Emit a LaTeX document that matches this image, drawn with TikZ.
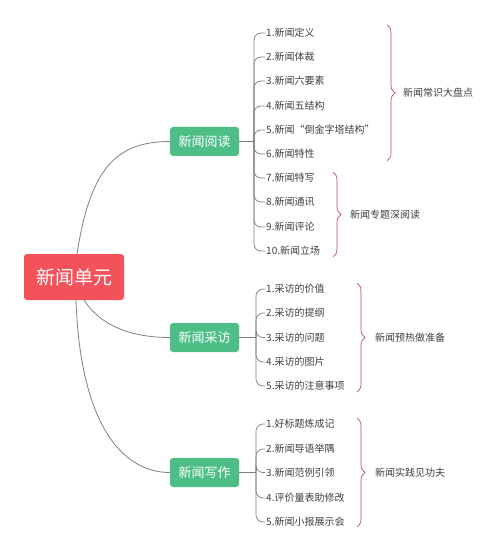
\documentclass[tikz,border=0pt]{standalone}
\usepackage{fontspec}
\setmainfont{Noto Sans CJK SC}
\usetikzlibrary{decorations.pathreplacing}
\definecolor{rootred}{RGB}{244,82,90}
\definecolor{topgreen}{RGB}{76,190,134}
\definecolor{linegray}{RGB}{128,128,128}
\definecolor{txtgray}{RGB}{64,64,64}
\definecolor{bracered}{RGB}{190,72,96}
\begin{document}
\begin{tikzpicture}[x=1pt,y=-1pt,
  rootbox/.style={fill=rootred,text=white,rounded corners=3pt,minimum width=100pt,minimum height=46pt,inner sep=0pt,font=\fontsize{19}{22}\selectfont},
  topbox/.style={fill=topgreen,text=white,rounded corners=3pt,minimum width=69pt,minimum height=29pt,inner sep=0pt,font=\fontsize{13}{15}\selectfont},
  item/.style={anchor=west,inner sep=1pt,text=txtgray,font=\fontsize{10}{12}\selectfont},
  lbl/.style={anchor=west,inner sep=0pt,text=txtgray,font=\fontsize{10}{12}\selectfont},
  conn/.style={draw=linegray,line width=0.8pt},
  elbow/.style={draw=linegray,line width=0.7pt,rounded corners=7pt},
  bracel/.style={draw=bracered,line width=0.7pt,decorate,decoration={brace,amplitude=8pt}}]
\useasboundingbox (0,0) rectangle (500,553);
\fill[white] (0,0) rectangle (500,553);

% root and topics
\node[rootbox] (root) at (74,277) {新闻单元};
\node[topbox] (t1) at (204.5,141.5) {新闻阅读};
\node[topbox] (t2) at (204.5,337.5) {新闻采访};
\node[topbox] (t3) at (204.5,472.5) {新闻写作};

\coordinate (r1) at (77,254);
\coordinate (r2) at (84,300);
\coordinate (r3) at (76,300);
\draw[conn] (r1) .. controls (90,170) and (115,141.5) .. (t1.west);
\draw[conn] (r2) .. controls (100,325) and (130,337.5) .. (t2.west);
\draw[conn] (r3) .. controls (80,420) and (120,472.5) .. (t3.west);

% group 1 items
\node[item] (a1) at (265,33) {1.新闻定义};
\node[item] (a2) at (265,57) {2.新闻体裁};
\node[item] (a3) at (265,81) {3.新闻六要素};
\node[item] (a4) at (265,106) {4.新闻五结构};
\node[item] (a5) at (265,130) {5.新闻“倒金字塔结构”};
\node[item] (a6) at (265,154) {6.新闻特性};
\node[item] (a7) at (265,178) {7.新闻特写};
\node[item] (a8) at (265,202) {8.新闻通讯};
\node[item] (a9) at (265,227) {9.新闻评论};
\node[item] (a10) at (265,251) {10.新闻立场};

\coordinate (j1) at (254,141.5);
\draw[conn] (t1.east) -- (j1);
\foreach \n in {a1,a2,a3,a4,a5,a6,a7,a8,a9,a10}{
  \draw[elbow] (j1) |- (\n.west);
}

% group 2 items
\node[item] (b1) at (265,289) {1.采访的价值};
\node[item] (b2) at (265,313) {2.采访的提纲};
\node[item] (b3) at (265,337.5) {3.采访的问题};
\node[item] (b4) at (265,362) {4.采访的图片};
\node[item] (b5) at (265,386) {5.采访的注意事项};

\coordinate (j2) at (256,337.5);
\draw[conn] (t2.east) -- (j2);
\foreach \n in {b1,b2,b3,b4,b5}{
  \draw[elbow] (j2) |- (\n.west);
}

% group 3 items
\node[item] (c1) at (265,424) {1.好标题炼成记};
\node[item] (c2) at (265,449) {2.新闻导语举隅};
\node[item] (c3) at (265,472.5) {3.新闻范例引领};
\node[item] (c4) at (265,498) {4.评价量表助修改};
\node[item] (c5) at (265,522) {5.新闻小报展示会};

\coordinate (j3) at (256,472.5);
\draw[conn] (t3.east) -- (j3);
\foreach \n in {c1,c2,c3,c4,c5}{
  \draw[elbow] (j3) |- (\n.west);
}

% braces
\coordinate (k1a) at (387,25);
\coordinate (k1b) at (387,161);
\draw[bracel] (k1a) -- (k1b);
\node[lbl] (l1) at (403,93) {新闻常识大盘点};

\coordinate (k2a) at (333,172);
\coordinate (k2b) at (333,257);
\draw[bracel] (k2a) -- (k2b);
\node[lbl] (l2) at (350,214.5) {新闻专题深阅读};

\coordinate (k3a) at (357,283);
\coordinate (k3b) at (357,392);
\draw[bracel] (k3a) -- (k3b);
\node[lbl] (l3) at (375,337.5) {新闻预热做准备};

\coordinate (k4a) at (357,418);
\coordinate (k4b) at (357,527);
\draw[bracel] (k4a) -- (k4b);
\node[lbl] (l4) at (375,472.5) {新闻实践见功夫};
\end{tikzpicture}
\end{document}
